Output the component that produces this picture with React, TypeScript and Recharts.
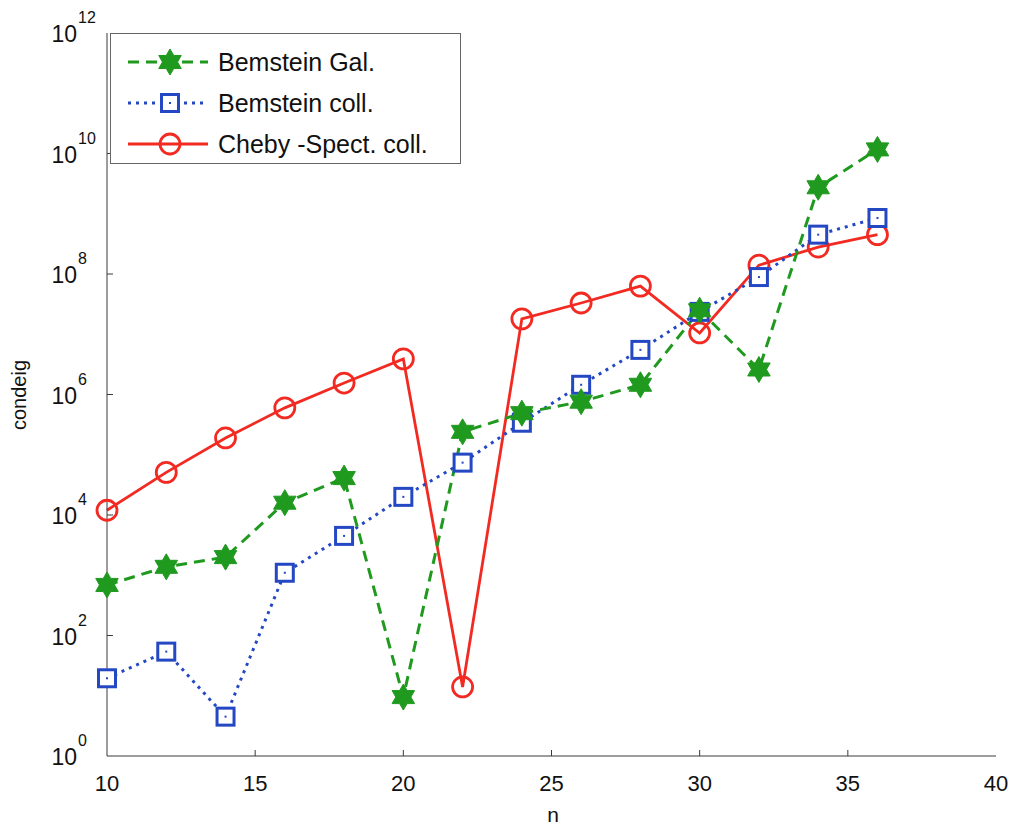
import { LineChart, Line, XAxis, YAxis } from "recharts";

const nValues = [10, 12, 14, 16, 18, 20, 22, 24, 26, 28, 30, 32, 34, 36];
const bernsteinGal = [690, 1380, 2000, 1.6e4, 4.1e4, 9.5, 2.4e5, 4.9e5, 7.6e5, 1.45e6, 2.5e7, 2.6e6, 2.75e9, 1.17e10];
const bernsteinColl = [19.5, 54, 4.5, 1.1e3, 4.5e3, 2.0e4, 7.4e4, 3.4e5, 1.45e6, 5.5e6, 2.35e7, 8.9e7, 4.5e8, 8.5e8];
const chebyColl = [1.2e4, 5.1e4, 1.9e5, 6.0e5, 1.55e6, 3.9e6, 14, 1.8e7, 3.3e7, 6.3e7, 1.05e7, 1.4e8, 2.8e8, 4.5e8];

const xTicks = [10, 15, 20, 25, 30, 35, 40];
const yTicks = [1, 1e2, 1e4, 1e6, 1e8, 1e10, 1e12];

const data = nValues.map((n, i) => ({
  n,
  gal: bernsteinGal[i],
  coll: bernsteinColl[i],
  cheby: chebyColl[i],
}));

const W = 1013;
const H = 830;
const LEFT = 107;
const TOP = 33;
const RIGHT = 996;
const BOTTOM = 756;
const FONT = "'Liberation Sans', Arial, sans-serif";
const GREEN = "#1f9a1f";
const BLUE = "#2448c4";
const RED = "#f22a22";
const AXIS = "#3a3a3a";

function Star({ cx, cy, r = 13 }: { cx: number; cy: number; r?: number }) {
  const pts: string[] = [];
  for (let k = 0; k < 12; k++) {
    const rad = k % 2 === 0 ? r : r * 0.58;
    const a = (Math.PI / 6) * k - Math.PI / 2;
    pts.push(`${cx + rad * Math.cos(a)},${cy + rad * Math.sin(a)}`);
  }
  return <polygon points={pts.join(" ")} fill={GREEN} stroke={GREEN} strokeWidth={1} />;
}

function Square({ cx, cy }: { cx: number; cy: number }) {
  return (
    <g>
      <rect x={cx - 8.5} y={cy - 8.5} width={17} height={17} fill="#fff" stroke={BLUE} strokeWidth={3} />
      <rect x={cx - 1} y={cy - 1} width={2} height={2} fill={BLUE} />
    </g>
  );
}

function Ring({ cx, cy }: { cx: number; cy: number }) {
  return <circle cx={cx} cy={cy} r={10} fill="none" stroke={RED} strokeWidth={2.8} />;
}

const BottomTick = ({ x, payload }: any) => (
  <g>
    {payload.value > 10 && payload.value < 40 && (
      <line x1={x} x2={x} y1={BOTTOM} y2={BOTTOM - 6} stroke={AXIS} strokeWidth={1} />
    )}
    <text x={x} y={791} textAnchor="middle" fontSize={22} fontFamily={FONT} fill="#111">
      {payload.value}
    </text>
  </g>
);

const TopTick = ({ x, payload }: any) =>
  payload.value > 10 && payload.value < 40 ? (
    <line x1={x} x2={x} y1={TOP} y2={TOP + 6} stroke={AXIS} strokeWidth={1} />
  ) : (
    <g />
  );

const LeftTick = ({ y, payload }: any) => {
  const exp = Math.round(Math.log10(payload.value));
  return (
    <g>
      {exp > 0 && exp < 12 && <line x1={LEFT} x2={LEFT + 6} y1={y} y2={y} stroke={AXIS} strokeWidth={1} />}
      <text x={77} y={y + 9} textAnchor="end" fontSize={23} fontFamily={FONT} fill="#111">
        10
      </text>
      <text x={78} y={y - 10} fontSize={16} fontFamily={FONT} fill="#111">
        {exp}
      </text>
    </g>
  );
};

const RightTick = ({ y, payload }: any) => {
  const exp = Math.round(Math.log10(payload.value));
  return exp > 0 && exp < 12 ? (
    <line x1={RIGHT} x2={RIGHT - 6} y1={y} y2={y} stroke={AXIS} strokeWidth={1} />
  ) : (
    <g />
  );
};

function LegendBox() {
  const rows = [
    { label: "Bemstein Gal.", color: GREEN, dash: "11 7", width: 3, marker: "star" },
    { label: "Bemstein coll.", color: BLUE, dash: "3 5", width: 3, marker: "square" },
    { label: "Cheby -Spect. coll.", color: RED, dash: undefined, width: 2.8, marker: "ring" },
  ];
  return (
    <svg
      width={352}
      height={132}
      style={{ position: "absolute", left: 110, top: TOP, overflow: "visible" }}
    >
      <rect x={0.5} y={0.5} width={350} height={130} fill="#fff" stroke="#666" strokeWidth={1} />
      {rows.map((r, i) => {
        const cy = 29 + i * 41;
        return (
          <g key={r.label}>
            <line x1={18} x2={98} y1={cy} y2={cy} stroke={r.color} strokeWidth={r.width} strokeDasharray={r.dash} />
            {r.marker === "star" && <Star cx={60} cy={cy} />}
            {r.marker === "square" && <Square cx={60} cy={cy} />}
            {r.marker === "ring" && <Ring cx={60} cy={cy} />}
            <text x={108} y={cy + 9} fontSize={25} fontFamily={FONT} fill="#111">
              {r.label}
            </text>
          </g>
        );
      })}
    </svg>
  );
}

export default function App() {
  return (
    <div style={{ position: "absolute", left: 0, top: 0, width: W, height: H, background: "#fff" }}>
      <LineChart
        width={W}
        height={H}
        data={data}
        margin={{ top: TOP, right: W - RIGHT, bottom: 0, left: 0 }}
      >
        <XAxis
          dataKey="n"
          type="number"
          domain={[10, 40]}
          ticks={xTicks}
          interval={0}
          height={H - BOTTOM}
          tick={<BottomTick />}
          tickLine={false}
          axisLine={{ stroke: AXIS, strokeWidth: 1 }}
        />
        <XAxis
          xAxisId="top"
          orientation="top"
          dataKey="n"
          type="number"
          domain={[10, 40]}
          ticks={xTicks}
          interval={0}
          height={0}
          tick={<TopTick />}
          tickLine={false}
          axisLine={{ stroke: AXIS, strokeWidth: 1 }}
        />
        <YAxis
          scale="log"
          type="number"
          domain={[1, 1e12]}
          allowDataOverflow
          ticks={yTicks}
          interval={0}
          width={LEFT}
          tick={<LeftTick />}
          tickLine={false}
          axisLine={{ stroke: AXIS, strokeWidth: 1 }}
        />
        <YAxis
          yAxisId="right"
          orientation="right"
          scale="log"
          type="number"
          domain={[1, 1e12]}
          allowDataOverflow
          ticks={yTicks}
          interval={0}
          width={0}
          tick={<RightTick />}
          tickLine={false}
          axisLine={{ stroke: AXIS, strokeWidth: 1 }}
        />
        <Line
          dataKey="cheby"
          stroke={RED}
          strokeWidth={2.8}
          isAnimationActive={false}
          dot={(p: any) => <Ring key={`c${p.index}`} cx={p.cx} cy={p.cy} />}
        />
        <Line
          dataKey="coll"
          stroke={BLUE}
          strokeWidth={3}
          strokeDasharray="3 5"
          isAnimationActive={false}
          dot={(p: any) => <Square key={`b${p.index}`} cx={p.cx} cy={p.cy} />}
        />
        <Line
          dataKey="gal"
          stroke={GREEN}
          strokeWidth={3}
          strokeDasharray="11 7"
          isAnimationActive={false}
          dot={(p: any) => <Star key={`g${p.index}`} cx={p.cx} cy={p.cy} />}
        />
        <text
          x={553}
          y={822}
          textAnchor="middle"
          fontSize={21}
          fontFamily={FONT}
          fill="#111"
        >
          n
        </text>
        <text
          x={26}
          y={395}
          textAnchor="middle"
          fontSize={20}
          fontFamily={FONT}
          fill="#111"
          transform="rotate(-90 26 395)"
        >
          condeig
        </text>
      </LineChart>
      <LegendBox />
    </div>
  );
}
